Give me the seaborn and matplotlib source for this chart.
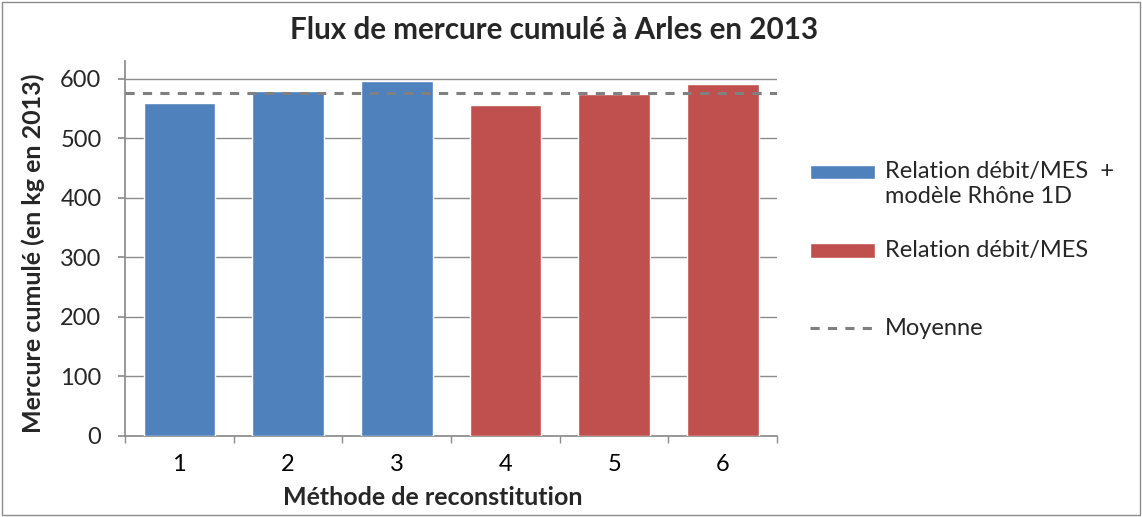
import numpy as np
import pandas as pd
import seaborn as sns
import matplotlib.pyplot as plt
from matplotlib.patches import Patch, Rectangle
from matplotlib.lines import Line2D
from matplotlib.legend_handler import HandlerPatch
from matplotlib.ticker import FixedLocator

# ---------------------------------------------------------------
# Data
# ---------------------------------------------------------------
methods = ["1", "2", "3", "4", "5", "6"]
flux_kg = [560, 579, 597, 556, 575, 591]
label_blue = "Relation débit/MES  +\nmodèle Rhône 1D"
label_red = "Relation débit/MES"
groups = [label_blue] * 3 + [label_red] * 3
group_colors = {label_blue: "#4F81BD", label_red: "#C0504D"}
mean_label = "Moyenne"

df = pd.DataFrame({"methode": methods, "flux": flux_kg, "groupe": groups})
mean_flux = df["flux"].mean()

GRID = "#8c8c8c"
DASH = "#808080"

# ---------------------------------------------------------------
# Style
# ---------------------------------------------------------------
sns.set_theme(style="white")
plt.rcParams["font.family"] = ["Lato", "DejaVu Sans"]

fig = plt.figure(figsize=(11.42, 5.17), dpi=100)
ax = fig.add_axes([0.1095, 0.157, 0.571, 0.725])

sns.barplot(
    data=df, x="methode", y="flux", hue="groupe",
    palette=group_colors, dodge=False, width=0.66,
    saturation=1, legend=False, ax=ax, zorder=3,
)
ax.axhline(mean_flux, color=DASH, ls=(0, (3, 2.7)), lw=2.2, zorder=4)

# axes cosmetics (Excel-like)
ax.set_xlim(-0.5, 5.5)
ax.set_ylim(0, 630)
ax.set_yticks(range(0, 601, 100))
ax.yaxis.grid(True, color=GRID, lw=1)
ax.set_axisbelow(True)
for side in ["top", "right"]:
    ax.spines[side].set_visible(False)
for side in ["left", "bottom"]:
    ax.spines[side].set_color(GRID)
ax.xaxis.set_minor_locator(FixedLocator(np.arange(-0.5, 6, 1)))
ax.tick_params(axis="x", which="major", length=0, labelsize=17, pad=13, colors="black")
ax.tick_params(axis="x", which="minor", length=5, color=GRID, direction="out", bottom=True)
ax.tick_params(axis="y", length=5, color=GRID, direction="out", labelsize=17, pad=12, left=True)

ax.set_xlabel("Méthode de reconstitution", fontsize=18, fontweight="bold")
ax.xaxis.set_label_coords(0.472, -0.133)
ax.set_ylabel("Mercure cumulé (en kg en 2013)", fontsize=18, fontweight="bold")
ax.yaxis.set_label_coords(-0.123, 0.488)
fig.suptitle("Flux de mercure cumulé à Arles en 2013", x=0.485, y=0.97,
             fontsize=21.3, fontweight="bold")


# legend patches pinned to the first text line (as in Excel)
def top_patch(legend, orig_handle, xdescent, ydescent, width, height, fontsize):
    return Rectangle((-xdescent, -ydescent + 0.52 * fontsize), width, height)


blue_h = Patch(facecolor=group_colors[label_blue], label=label_blue)
# red entry gets an empty second line so that entries are evenly spaced
red_h = Patch(facecolor=group_colors[label_red], label=label_red + "\n ")
mean_h = Line2D([0], [0], color=DASH, ls=(0, (3, 2.7)), lw=2.2, label=mean_label)
ax.legend(
    handles=[blue_h, red_h, mean_h],
    handler_map={blue_h: HandlerPatch(patch_func=top_patch),
                 red_h: HandlerPatch(patch_func=top_patch)},
    loc="upper left", bbox_to_anchor=(1.0506, 0.732),
    frameon=False, fontsize=17, handlelength=2.75, handleheight=0.55,
    labelspacing=1.4, handletextpad=0.4, borderpad=0, borderaxespad=0,
)

# outer frame
fig.patches.append(Rectangle((0.002, 0.003), 0.996, 0.994, transform=fig.transFigure,
                             fill=False, edgecolor=GRID, lw=1))

plt.savefig("out.png", dpi=100)
plt.close()
